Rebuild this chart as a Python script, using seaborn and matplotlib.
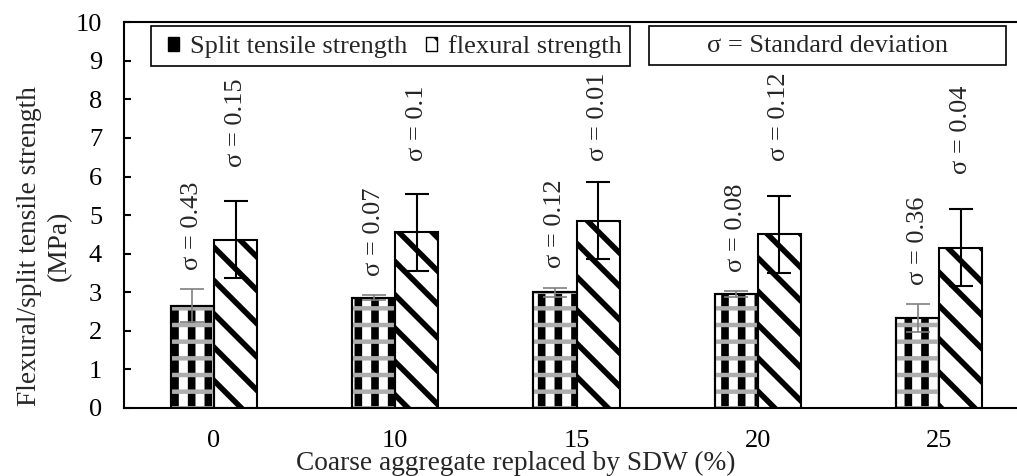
import numpy as np
import pandas as pd
import seaborn as sns
import matplotlib.pyplot as plt
from matplotlib.patches import Patch, Rectangle

# ---------------------------------------------------------------------------
# data

replacement = ['0', '10', '15', '20', '25']
split_tensile = [2.65, 2.86, 3.00, 2.95, 2.34]
flexural = [4.36, 4.56, 4.85, 4.50, 4.16]
split_sd = [0.43, 0.07, 0.12, 0.08, 0.36]
flexural_err = [1.0, 1.0, 1.0, 1.0, 1.0]
split_sd_text = ['0.43', '0.07', '0.12', '0.08', '0.36']
flexural_sd_text = ['0.15', '0.1', '0.01', '0.12', '0.04']

series = ['Split tensile strength', 'flexural strength']

# ---------------------------------------------------------------------------

sns.set_style('ticks')
plt.rcParams['font.family'] = ['Liberation Serif', 'DejaVu Serif']
plt.rcParams['hatch.linewidth'] = 4.5
FS = 19
LABEL_FS = 19.7


def hatch_lw(patch, lw):
    # per-patch hatch width where the matplotlib version allows it
    if hasattr(patch, 'set_hatch_linewidth'):
        patch.set_hatch_linewidth(lw)


df = pd.DataFrame({
    'replacement': replacement * 2,
    'strength': split_tensile + flexural,
    'series': [series[0]] * 5 + [series[1]] * 5,
})

fig = plt.figure(figsize=(10.17, 4.76), dpi=100)
ax = fig.add_axes([0.1222, 0.1429, 0.8778, 0.8103])

sns.barplot(data=df, x='replacement', y='strength', hue='series',
            hue_order=series, palette=['white', 'white'], saturation=1,
            width=0.475, gap=0, errorbar=None, edgecolor='black',
            linewidth=1.5, legend=False, ax=ax)

# patterns
for bar in ax.containers[0]:
    bar.set_hatch('|')
    hatch_lw(bar, 5.5)
    x, w, h = bar.get_x(), bar.get_width(), bar.get_height()
    band = Rectangle((x, 0), w, h, facecolor='none', edgecolor='0.68',
                     hatch='-', linewidth=0, zorder=2.1)
    hatch_lw(band, 3.2)
    ax.add_patch(band)
    ax.add_patch(Rectangle((x, 0), w, h, facecolor='none', edgecolor='black',
                           linewidth=1.5, zorder=2.2))
for bar in ax.containers[1]:
    bar.set_hatch('\\')
    hatch_lw(bar, 4)

# error bars + sigma labels
split_x = [b.get_x() + b.get_width() / 2 for b in ax.containers[0]]
flex_x = [b.get_x() + b.get_width() / 2 for b in ax.containers[1]]

ax.errorbar(split_x, split_tensile, yerr=split_sd, fmt='none', ecolor='#7f7f7f',
            elinewidth=1.2, capsize=8.5, capthick=1.2, zorder=3)
ax.errorbar(flex_x, flexural, yerr=flexural_err, fmt='none', ecolor='black',
            elinewidth=1.5, capsize=8.5, capthick=1.5, zorder=3)

for x, v, e, s in zip(split_x, split_tensile, split_sd, split_sd_text):
    ax.text(x, v + e + 0.5, f'σ = {s}', rotation=90, ha='center', va='bottom',
            fontsize=FS)
for x, v, e, s in zip(flex_x, flexural, flexural_err, flexural_sd_text):
    # keep the flexural labels clear of the legend boxes
    ax.text(x, min(v + e + 0.9, 6.4), f'σ = {s}', rotation=90, ha='center',
            va='bottom', fontsize=FS)

# axes
ax.set_ylim(0, 10)
ax.set_yticks(range(0, 11))
ax.set_xlim(-0.495, 4.43)
ax.tick_params(axis='y', direction='in', length=5, width=1.5, pad=16,
               labelsize=FS, colors='black')
ax.tick_params(axis='x', length=0, pad=15.5, labelsize=FS, colors='black')
for side in ['left', 'bottom', 'top']:
    ax.spines[side].set_linewidth(1.5)
    ax.spines[side].set_color('black')
ax.spines['right'].set_visible(False)

ax.set_ylabel('Flexural/split tensile strength\n(MPa)', fontsize=LABEL_FS,
              linespacing=1.25)
ax.yaxis.set_label_coords(-0.059, 0.421)
ax.set_xlabel('Coarse aggregate replaced by SDW (%)', fontsize=LABEL_FS)
ax.xaxis.set_label_coords(0.439, -0.112)

# legend boxes
fig.add_artist(Rectangle((151 / 1017, 1 - 66 / 476), 479 / 1017, 40 / 476,
                         transform=fig.transFigure, facecolor='white',
                         edgecolor='black', linewidth=1.2, zorder=3))
fig.add_artist(Rectangle((649 / 1017, 1 - 65 / 476), 357 / 1017, 39 / 476,
                         transform=fig.transFigure, facecolor='white',
                         edgecolor='black', linewidth=1.2, zorder=3))
fig.text(827.5 / 1017, 1 - 46 / 476, 'σ = Standard deviation', ha='center',
         va='center', fontsize=FS, zorder=4)

handles = [Patch(facecolor='black', edgecolor='black', hatch='+'),
           Patch(facecolor='white', edgecolor='black', hatch='\\')]
leg = fig.legend(handles, series, ncol=2, frameon=False, loc='center left',
                 bbox_to_anchor=(168 / 1017, 1 - 47 / 476),
                 borderpad=0, borderaxespad=0,
                 handlelength=0.42, handleheight=0.42, handletextpad=0.42,
                 columnspacing=0.7, fontsize=FS)
leg.set_zorder(5)

fig.savefig('out.png', dpi=100)
